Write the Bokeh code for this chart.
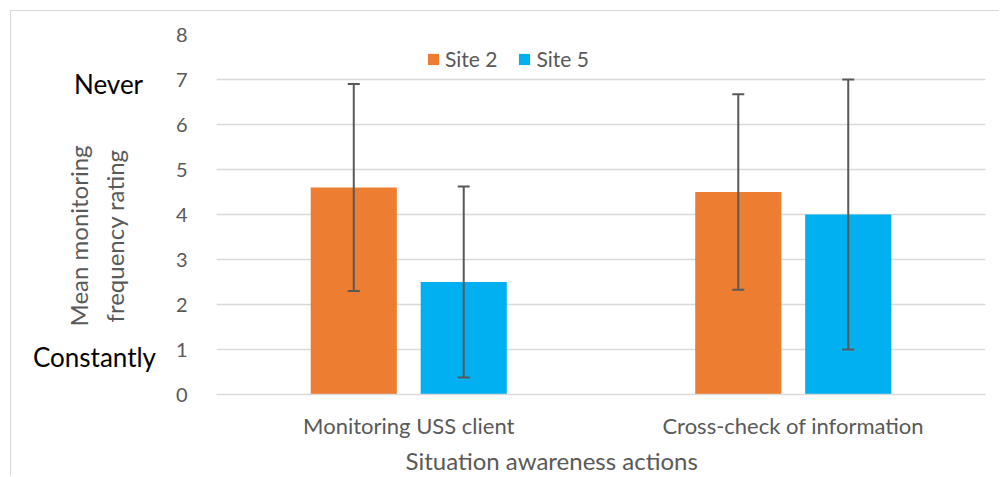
from bokeh.plotting import figure
from bokeh.layouts import row
from bokeh.models import (ColumnDataSource, FactorRange, Range1d, Whisker, Label, Title,
                          Legend, LegendItem, TeeHead, FixedTicker)
from bokeh.transform import dodge
from bokeh.embed import file_html
from bokeh.resources import INLINE
import math

categories = ["Monitoring USS client", "Cross-check of information"]
series = ["Site 2", "Site 5"]
site2_mean = [4.6, 4.5]
site5_mean = [2.5, 4.0]
site2_err = [2.3, 2.17]
site5_err = [2.12, 3.0]
y_ticks = [0, 1, 2, 3, 4, 5, 6, 7, 8]
scale_labels = ["Never", "Constantly"]
y_title = "Mean monitoring\nfrequency rating"
x_title = "Situation awareness actions"

ORANGE = "#ED7D31"
BLUE = "#00B0F0"
GRID = "#D9D9D9"
TXT = "#595959"
FONT = "Lato"

H = 465
WL = 149      # left text panel
WM = 839      # main chart

src = ColumnDataSource(dict(
    cat=categories,
    s2=site2_mean, s5=site5_mean,
    s2_lo=[m - e for m, e in zip(site2_mean, site2_err)],
    s2_hi=[m + e for m, e in zip(site2_mean, site2_err)],
    s5_lo=[m - e for m, e in zip(site5_mean, site5_err)],
    s5_hi=[m + e for m, e in zip(site5_mean, site5_err)],
))

# ---------- main chart ----------
p = figure(width=WM, height=H, x_range=FactorRange(factors=categories, range_padding=0),
           y_range=Range1d(0, 8), output_backend="svg", toolbar_location=None,
           min_border_left=56, min_border_right=14, min_border_top=23, min_border_bottom=81)
p.outline_line_color = None
p.background_fill_color = "white"
p.border_fill_color = "white"

OFF = 0.143
BW = 0.224
r2 = p.vbar(x=dodge("cat", -OFF, range=p.x_range), top="s2", width=BW, source=src,
            fill_color=ORANGE, line_color=None)
r5 = p.vbar(x=dodge("cat", OFF, range=p.x_range), top="s5", width=BW, source=src,
            fill_color=BLUE, line_color=None)

for off, lo, hi in [(-OFF, "s2_lo", "s2_hi"), (OFF, "s5_lo", "s5_hi")]:
    w = Whisker(source=src, base=dodge("cat", off, range=p.x_range), lower=lo, upper=hi,
                line_color=TXT, line_width=2, level="overlay",
                upper_head=TeeHead(size=12, line_color=TXT, line_width=2),
                lower_head=TeeHead(size=12, line_color=TXT, line_width=2))
    p.add_layout(w)

p.yaxis.ticker = FixedTicker(ticks=y_ticks)
p.yaxis.axis_line_color = None
p.yaxis.major_tick_line_color = None
p.yaxis.minor_tick_line_color = None
p.yaxis.major_label_text_font = FONT
p.yaxis.major_label_text_font_size = "20px"
p.yaxis.major_label_text_color = TXT
p.yaxis.major_label_standoff = 23

p.xaxis.axis_line_color = GRID
p.xaxis.axis_line_width = 1.5
p.xaxis.major_tick_line_color = None
p.xaxis.minor_tick_line_color = None
p.xaxis.major_label_text_font = FONT
p.xaxis.major_label_text_font_size = "22px"
p.xaxis.major_label_text_color = TXT
p.xaxis.major_label_standoff = 11

p.xgrid.grid_line_color = None
p.ygrid.grid_line_color = GRID
p.ygrid.grid_line_width = 1.5

leg = Legend(items=[LegendItem(label=series[0], renderers=[r2]),
                    LegendItem(label=series[1], renderers=[r5])],
             orientation="horizontal", location=(210, 323))
leg.border_line_color = None
leg.background_fill_alpha = 0
leg.margin = 0
leg.padding = 0
leg.spacing = 20
leg.label_standoff = 5
leg.glyph_width = 14
leg.glyph_height = 14
leg.label_text_font = FONT
leg.label_text_font_size = "21px"
leg.label_text_color = TXT
p.add_layout(leg, "center")

p.add_layout(Title(text=x_title, align="left", offset=189, standoff=4,
                   text_font=FONT, text_font_size="24px", text_font_style="normal",
                   text_color=TXT), "below")

# ---------- left text panel (the row aligns its frame with the chart frame:
# page y 34..395, so the y range maps directly to page pixels) ----------
lf = figure(width=WL, height=H, x_range=Range1d(11, 11 + WL), y_range=Range1d(395, 34),
            output_backend="svg", toolbar_location=None, x_axis_type=None, y_axis_type=None,
            min_border=0, min_border_left=0, min_border_right=0,
            min_border_top=0, min_border_bottom=0)
lf.outline_line_color = None
lf.grid.grid_line_color = None
lf.background_fill_color = "white"
lf.border_fill_color = "white"

lf.add_layout(Label(x=108, y=84, text=scale_labels[0], text_font=FONT, text_font_size="26px",
                    text_color="black", text_align="center", text_baseline="middle"))
lf.add_layout(Label(x=94, y=357, text=scale_labels[1], text_font=FONT, text_font_size="26px",
                    text_color="black", text_align="center", text_baseline="middle"))
lf.add_layout(Label(x=96, y=236, text=y_title, angle=math.pi / 2, text_font=FONT,
                    text_font_size="24px", text_color=TXT, text_align="center",
                    text_baseline="middle", text_line_height=1.25))

layout = row(lf, p, spacing=0)
layout.margin = (10, 0, 0, 10)
layout.styles = {"border-top": "1px solid #D9D9D9", "border-left": "1px solid #D9D9D9"}

open("out.html", "w").write(file_html(layout, INLINE))
